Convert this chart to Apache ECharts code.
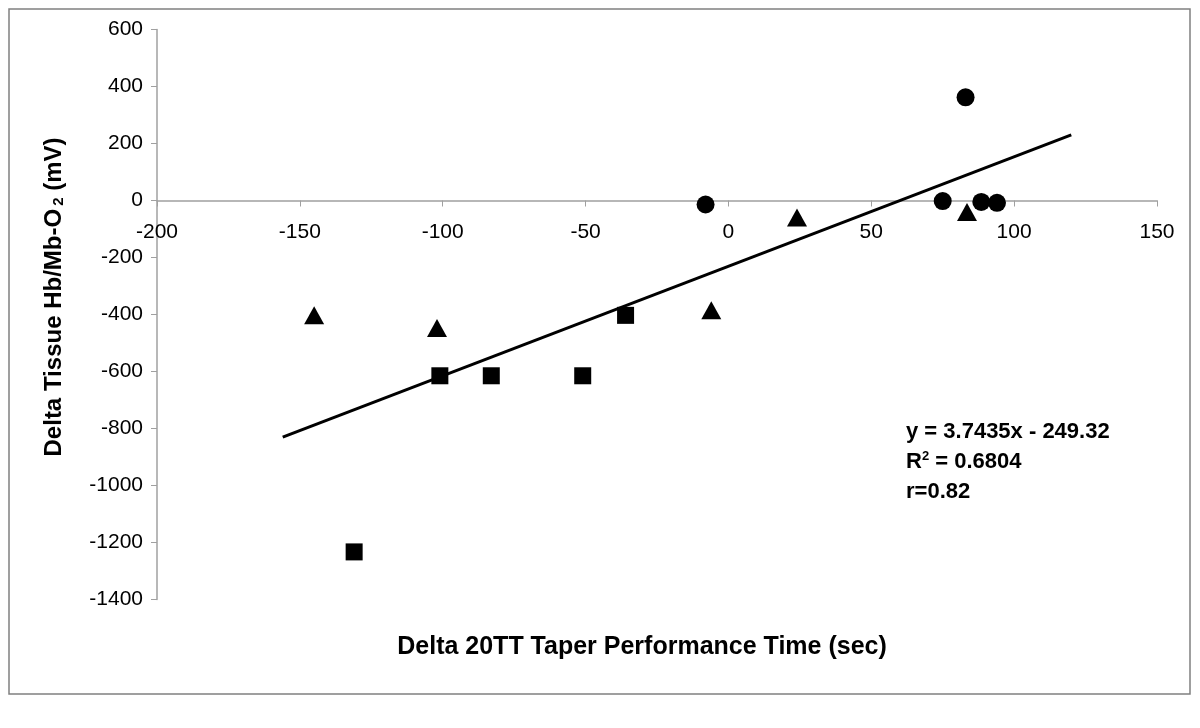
<!DOCTYPE html>
<html>
<head>
<meta charset="utf-8">
<script src="https://cdn.jsdelivr.net/npm/echarts@6/dist/echarts.min.js"></script>
<style>
html,body{margin:0;padding:0;background:#fff;}
#chart{width:1200px;height:728px;}
</style>
</head>
<body>
<div id="chart"></div>
<script>
// Data
const circlePoints = [[-8, -14], [75, -2], [83, 362], [88.5, -5], [94, -8]];
const trianglePoints = [[-145, -403], [-102, -447], [-6, -385], [24, -60], [83.5, -40]];
const squarePoints = [[-131, -1233], [-101, -615], [-83, -615], [-51, -615], [-36, -403]];
const trendLine = [[-156, -830], [120, 230]];
const equationLines = ['y = 3.7435x - 249.32', 'R{sup|2} = 0.6804', 'r=0.82'];
const xTitle = 'Delta 20TT Taper Performance Time (sec)';
const yTitle = 'Delta Tissue Hb/Mb-O{sub|2} (mV)';

const FONT = '"Liberation Sans", Arial, sans-serif';
const chart = echarts.init(document.getElementById('chart'), null, {renderer: 'canvas'});

const GRID_TOP = 29.5, GRID_BOTTOM = 128.5, H = 728;

const option = {
  animation: false,
  backgroundColor: '#ffffff',
  textStyle: {fontFamily: FONT},
  grid: {left: 157, right: 43, top: GRID_TOP, bottom: GRID_BOTTOM, containLabel: false},
  xAxis: {
    type: 'value', min: -200, max: 150, interval: 50, position: 'bottom', offset: 0,
    axisLine: {onZero: false, lineStyle: {color: '#a0a0a0', width: 1.5}},
    axisTick: {show: true, length: 6, lineStyle: {color: '#a0a0a0'}},
    axisLabel: {color: '#000', fontSize: 21, margin: 21, fontFamily: FONT},
    splitLine: {show: false}
  },
  yAxis: {
    type: 'value', min: -1400, max: 600, interval: 200,
    axisLine: {show: true, onZero: false, lineStyle: {color: '#a0a0a0', width: 1.5}},
    axisTick: {show: true, length: 6, lineStyle: {color: '#a0a0a0'}},
    axisLabel: {color: '#000', fontSize: 21, margin: 14, fontFamily: FONT, formatter: v => String(v)},
    splitLine: {show: false}
  },
  series: [
    {type: 'line', data: trendLine, symbol: 'none', lineStyle: {color: '#000', width: 3}, z: 1},
    {type: 'scatter', data: circlePoints, symbol: 'circle', symbolSize: 18, itemStyle: {color: '#000', opacity: 1}, z: 2},
    {type: 'scatter', data: trianglePoints, symbol: 'triangle', symbolSize: [20, 18], itemStyle: {color: '#000', opacity: 1}, z: 2},
    {type: 'scatter', data: squarePoints, symbol: 'rect', symbolSize: 17, itemStyle: {color: '#000', opacity: 1}, z: 2}
  ],
  graphic: [
    {type: 'rect', shape: {x: 9, y: 9, width: 1181, height: 685}, style: {fill: 'none', stroke: '#808080', lineWidth: 1.5}, silent: true, z: -1},
    {type: 'text', x: 642, y: 647, style: {text: xTitle, font: 'bold 25px ' + FONT, fill: '#000', align: 'center', verticalAlign: 'middle'}},
    {type: 'text', x: 54, y: 297, rotation: Math.PI / 2,
      style: {text: yTitle, fontFamily: FONT, fontWeight: 'bold', fontSize: 24, fill: '#000', align: 'center', verticalAlign: 'middle',
        rich: {sub: {fontFamily: FONT, fontWeight: 'bold', fontSize: 15, padding: [10, 0, 0, 3]}}}},
    {type: 'text', x: 906, y: 417,
      style: {text: equationLines.join('\n'), fontFamily: FONT, fontWeight: 'bold', fontSize: 22, lineHeight: 30, fill: '#000', align: 'left', verticalAlign: 'top',
        rich: {sup: {fontFamily: FONT, fontWeight: 'bold', fontSize: 13, padding: [0, 0, 12, 0]}}}}
  ]
};
chart.setOption(option);

// Move the x axis so it crosses the y axis at value 0 (position from the library's own scale)
const zeroY = chart.convertToPixel({yAxisIndex: 0}, 0);
const bottomY = H - GRID_BOTTOM;
chart.setOption({xAxis: {offset: zeroY - bottomY}});
</script>
</body>
</html>
